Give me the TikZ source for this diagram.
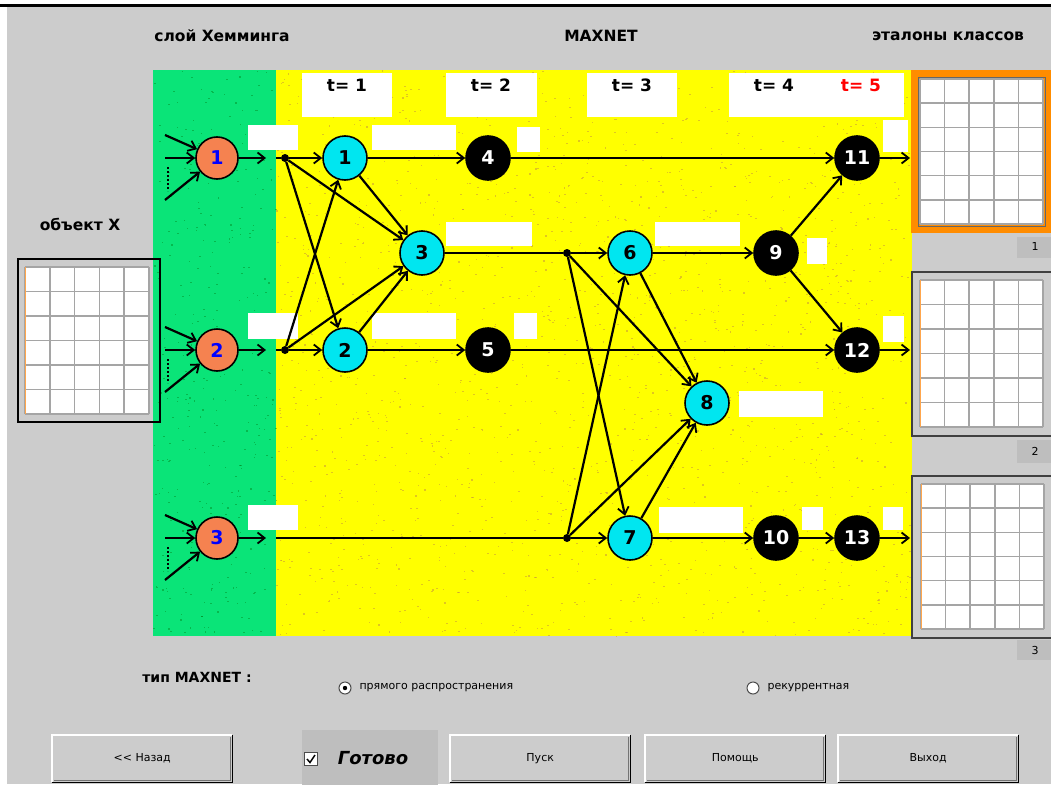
\documentclass[tikz,border=0pt]{standalone}
\usepackage{fontspec}
\setmainfont{DejaVu Sans}
\usepackage{tikz}
\usetikzlibrary{shapes,arrows,arrows.meta,calc}

\definecolor{panelgray}{RGB}{204,204,204}
\definecolor{darkpanel}{RGB}{190,190,190}
\definecolor{hamgreen}{RGB}{10,228,120}
\definecolor{netyellow}{RGB}{255,255,0}
\definecolor{hamorange}{RGB}{245,130,80}
\definecolor{netcyan}{RGB}{0,230,240}
\definecolor{gridgray}{RGB}{165,165,165}
\definecolor{frameorange}{RGB}{255,140,0}
\definecolor{grain}{RGB}{200,150,60}

\tikzstyle{arrow} = [draw, line width=2.2pt, -{Straight Barb[length=7pt,width=11pt,line width=1.8pt]}]
\tikzstyle{line} = [draw, line width=2.2pt]
\tikzstyle{hamming} = [circle, draw, line width=1.6pt, fill=hamorange, minimum size=42pt, inner sep=0pt, text=blue, font=\bfseries\fontsize{19}{19}\selectfont]
\tikzstyle{maxcell} = [circle, draw, line width=1.6pt, fill=netcyan, minimum size=44pt, inner sep=0pt, font=\bfseries\fontsize{19}{19}\selectfont]
\tikzstyle{outcell} = [circle, draw, line width=1.6pt, fill=black, text=white, minimum size=44pt, inner sep=0pt, font=\bfseries\fontsize{19}{19}\selectfont]
\tikzstyle{fork} = [circle, fill=black, minimum size=8pt, inner sep=0pt]
\tikzstyle{tbox} = [fill=white, anchor=north west, inner sep=0pt, minimum height=44pt]
\tikzstyle{tlabel} = [font=\bfseries\fontsize{17}{17}\selectfont]
\tikzstyle{title} = [font=\bfseries\fontsize{15.5}{18}\selectfont]
\tikzstyle{small} = [font=\fontsize{11}{13}\selectfont]
\tikzstyle{button} = [fill=panelgray, anchor=north west, minimum width=180pt, minimum height=47pt, inner sep=0pt, font=\fontsize{11}{13}\selectfont]
\tikzstyle{radio} = [circle, draw=black!70, line width=1pt, fill=white, minimum size=12pt, inner sep=0pt]

% 5x6 pattern field between two corners
\newcommand{\cellgrid}[4]{%
  \fill[white] (#1,#2) rectangle (#3,#4);
  \foreach \k in {0,...,5}
    \draw[gridgray, line width=1.6pt] ({#1+(#3-#1)*\k/5},#2) -- ({#1+(#3-#1)*\k/5},#4);
  \foreach \k in {0,...,6}
    \draw[gridgray, line width=1.6pt] (#1,{#2+(#4-#2)*\k/6}) -- (#3,{#2+(#4-#2)*\k/6});
}

% raised 3D edges of a button
\newcommand{\raised}[1]{%
  \draw[white, line width=1.5pt] (#1.south west) -- (#1.north west) -- (#1.north east);
  \draw[black!55, line width=1.5pt] ([xshift=-2pt,yshift=-2pt]#1.north east) -- ([xshift=-2pt,yshift=2pt]#1.south east) -- ([xshift=2pt,yshift=2pt]#1.south west);
  \draw[black, line width=1.5pt] (#1.north east) -- (#1.south east) -- (#1.south west);
}

\begin{document}
\begin{tikzpicture}[x=1pt, y=-1pt]
      \useasboundingbox (0,0) rectangle (1051,784);
      \fill[panelgray] (0,0) rectangle (1051,784);
      \fill[white] (0,0) rectangle (1051,5);
      \fill[white] (0,5) rectangle (7,784);
      \draw[black, line width=3pt] (0,6) -- (1051,6);

      \node[title] at (222,36) {слой Хемминга};
      \node[title] at (601,36) {MAXNET};
      \node[title] at (948,36) {эталоны классов};
      \node[title] at (80,224) {объект X};

      \fill[hamgreen] (153,70) rectangle (276,636);
      \fill[netyellow] (276,70) rectangle (912,636);

      % grainy surface of the two layers
      \pgfmathsetseed{11}
      \foreach \n in {1,...,1800}
        \fill[grain, opacity=0.55] ({276+636*rnd},{70+566*rnd}) rectangle ++(1.6,1.1);
      \foreach \n in {1,...,350}
        \fill[green!40!black, opacity=0.35] ({153+123*rnd},{70+566*rnd}) rectangle ++(1.6,1.1);

      \node[tbox, minimum width=90pt] (tb1) at (302,73) {};
      \node[tbox, minimum width=91pt] (tb2) at (446,73) {};
      \node[tbox, minimum width=90pt] (tb3) at (587,73) {};
      \node[tbox, minimum width=175pt] (tb4) at (729,73) {};
      \node[tlabel] at (347,85) {t= 1};
      \node[tlabel] at (491,85) {t= 2};
      \node[tlabel] at (632,85) {t= 3};
      \node[tlabel] at (774,85) {t= 4};
      \node[tlabel, text=red] at (861,85) {t= 5};

      \foreach \xa/\ya/\xb/\yb in {248/125/298/150, 372/125/456/150, 517/127/540/152,
          446/222/532/246, 655/222/740/246, 807/238/827/264, 883/120/908/152,
          248/313/298/339, 372/313/456/339, 514/313/537/339, 883/316/904/342,
          739/391/823/417, 248/505/298/530, 659/507/743/533, 802/507/823/530, 883/507/903/530}
        \fill[white] (\xa,\ya) rectangle (\xb,\yb);

      \node[hamming] (h1) at (217,158) {1};
      \node[hamming] (h2) at (217,350) {2};
      \node[hamming] (h3) at (217,538) {3};

      \node[maxcell] (c1) at (345,158) {1};
      \node[maxcell] (c2) at (345,350) {2};
      \node[maxcell] (c3) at (422,253) {3};
      \node[outcell] (o4) at (488,158) {4};
      \node[outcell] (o5) at (488,350) {5};
      \node[maxcell] (c6) at (630,253) {6};
      \node[maxcell] (c7) at (630,538) {7};
      \node[maxcell] (c8) at (707,403) {8};
      \node[outcell] (o9) at (776,253) {9};
      \node[outcell] (o10) at (776,538) {10};
      \node[outcell] (o11) at (857,158) {11};
      \node[outcell] (o12) at (857,350) {12};
      \node[outcell] (o13) at (857,538) {13};

      \node[fork] (f1) at (285,158) {};
      \node[fork] (f2) at (285,350) {};
      \node[fork] (f3) at (567,253) {};
      \node[fork] (f4) at (567,538) {};

      \foreach \i/\y in {1/158, 2/350, 3/538} {
        \coordinate (ina\i) at (165,\y-23);
        \coordinate (inb\i) at (165,\y);
        \coordinate (inc\i) at (165,\y+42);
        \coordinate (hout\i) at (266,\y);
        \coordinate (ys\i) at (276,\y);
        \coordinate (cls\i) at (910,\y);
        \draw[arrow] (ina\i) -- (h\i);
        \draw[arrow] (inb\i) -- (h\i);
        \draw[arrow] (inc\i) -- (h\i);
        \draw[dotted, line width=2pt] (168,\y+9) -- (168,\y+33);
        \draw[arrow] (h\i) -- (hout\i);
      }

      \draw[line] (ys1) -- (f1);
      \draw[line] (ys2) -- (f2);
      \draw[line] (ys3) -- (f4);
      \draw[line] (c3) -- (f3);

      \foreach \a/\b in {f1/c1, f1/c2, f1/c3, f2/c2, f2/c1, f2/c3, c1/c3, c2/c3,
          c1/o4, c2/o5, o4/o11, o5/o12, f3/c6, f3/c7, f3/c8, f4/c7, f4/c6, f4/c8,
          c6/c8, c7/c8, c6/o9, c7/o10, o9/o11, o9/o12, o10/o13,
          o11/cls1, o12/cls2, o13/cls3}
        \draw[arrow] (\a) -- (\b);

      % object and class patterns
      \draw[black, line width=1.5pt] (18,259) rectangle (160,422);
      \cellgrid{25}{267}{149}{414}
      \draw[orange!70, line width=1pt] (25,267) -- (25,414);

      \fill[frameorange] (911,70) rectangle (1051,233);
      \draw[black!60, line width=1pt] (918,77) rectangle (1045,226);
      \cellgrid{920}{79}{1043}{224}
      \fill[darkpanel] (1017,237) rectangle (1051,258);
      \node[small] at (1035,246) {1};

      \draw[black!75, line width=1.5pt, fill=panelgray] (912,272) rectangle (1052,436);
      \cellgrid{920}{280}{1043}{427}
      \draw[orange!70, line width=1pt] (920,280) -- (920,427);
      \fill[darkpanel] (1017,440) rectangle (1051,463);
      \node[small] at (1035,451) {2};

      \draw[black!75, line width=1.5pt, fill=panelgray] (912,476) rectangle (1052,638);
      \cellgrid{921}{484}{1044}{629}
      \draw[orange!70, line width=1pt] (921,484) -- (921,629);
      \fill[darkpanel] (1017,640) rectangle (1051,660);
      \node[small] at (1035,650) {3};

      % network type and controls
      \node[title, font=\bfseries\fontsize{14}{16}\selectfont] at (197,677) {тип MAXNET :};
      \node[radio] (r1) at (345,688) {};
      \fill[black] (r1) circle (2.2pt);
      \node[small, anchor=west] at (356,688) {прямого распространения};
      \node[radio] (r2) at (753,688) {};
      \node[small, anchor=west] at (764,688) {рекуррентная};

      \fill[darkpanel] (302,730) rectangle (438,790);
      \node[draw=black!70, line width=1pt, fill=white, minimum size=13pt, inner sep=0pt] (chk) at (311,759) {};
      \draw[line width=1.5pt] ([xshift=-4pt]chk.center) -- ([xshift=-1pt,yshift=-3.5pt]chk.center) -- ([xshift=4pt,yshift=4pt]chk.center);
      \node[font=\bfseries\itshape\fontsize{18}{20}\selectfont] at (373,758) {Готово};

      \node[button] (back) at (52,735) {<{}< Назад};
      \node[button] (run) at (450,735) {Пуск};
      \node[button] (help) at (645,735) {Помощь};
      \node[button] (quit) at (838,735) {Выход};
      \raised{back}
      \raised{run}
      \raised{help}
      \raised{quit}
\end{tikzpicture}
\end{document}
